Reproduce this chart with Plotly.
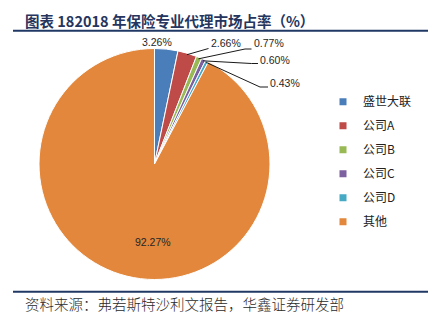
import math
import plotly.graph_objects as go

# ---------------- data ----------------
categories = ["盛世大联", "公司A", "公司B", "公司C", "公司D", "其他"]
shares = [3.26, 2.66, 0.77, 0.60, 0.43, 92.27]
share_labels = ["3.26%", "2.66%", "0.77%", "0.60%", "0.43%", "92.27%"]

title_text = "图表 182018 年保险专业代理市场占率（%）"
source_text = "资料来源：弗若斯特沙利文报告，华鑫证券研发部"

# ---------------- style / layout ----------------
colors = ["#4A7EBB", "#BE4B48", "#98B954", "#7D60A0", "#46AAC5", "#E2873B"]
W, H = 436, 329
CX, CY, R = 154.5, 164.0, 115.5          # pie centre / radius in pixels
NAVY = "#1F3864"
LABEL_FONT = dict(family="Liberation Sans, Arial", size=10.5, color="#262626")

# label placement (pixel positions of text) and leader elbow points
label_layout = [
    dict(x=156.7, y=42.3, anchor="center", leader=None),
    dict(x=209.3, y=43.3, anchor="left", leader=[(208.5, 48.5)]),
    dict(x=251.7, y=43.3, anchor="left", leader=[(245, 49), (251.5, 49)]),
    dict(x=258.3, y=60.0, anchor="left", leader=[(251.5, 63.5), (258, 63.5)]),
    dict(x=268.3, y=82.5, anchor="left", leader=[(260, 87), (268, 87)]),
    dict(x=153.0, y=241.7, anchor="center", leader=None),
]


def px(x):
    return x / W


def py(y):
    return 1 - y / H


fig = go.Figure()
fig.add_trace(go.Pie(
    labels=categories, values=shares, sort=False, direction="clockwise", rotation=0,
    marker=dict(colors=colors, line=dict(color="white", width=1)),
    textinfo="none", showlegend=False, hoverinfo="label+percent",
    domain=dict(x=[px(CX - R), px(CX + R)], y=[py(CY + R), py(CY - R)]),
))

# legend entries (no points; just legend symbols)
for name, col in zip(categories, colors):
    fig.add_trace(go.Scatter(
        x=[None], y=[None], mode="markers", name=name, legendgroup=name,
        marker=dict(symbol="square", size=7, color=col), hoverinfo="skip",
    ))

# percentage labels + leader lines derived from slice angles
total = sum(shares)
cum = 0.0
annotations = []
shapes = []
for val, txt, lay in zip(shares, share_labels, label_layout):
    mid = (cum + val / 2) / total * 2 * math.pi
    cum += val
    annotations.append(dict(
        x=px(lay["x"]), y=py(lay["y"]), xref="paper", yref="paper",
        text=txt, showarrow=False, xanchor=lay["anchor"], yanchor="middle",
        font=LABEL_FONT,
    ))
    if lay["leader"]:
        tx = CX + (R - 1.5) * math.sin(mid)
        ty = CY - (R - 1.5) * math.cos(mid)
        pts = [(tx, ty)] + lay["leader"]
        path = "M " + " L ".join(f"{px(a):.5f},{py(b):.5f}" for a, b in pts)
        shapes.append(dict(type="path", path=path, xref="paper", yref="paper",
                           line=dict(color="#1a1a1a", width=1)))

# title, rules and source
annotations.append(dict(
    x=px(23), y=py(20), xref="paper", yref="paper", xanchor="left", yanchor="middle",
    text=f"<b>{title_text}</b>", showarrow=False,
    font=dict(family="Noto Sans CJK SC", size=14.5, color="#25355E"),
))
annotations.append(dict(
    x=px(23), y=py(303), xref="paper", yref="paper", xanchor="left", yanchor="middle",
    text=source_text, showarrow=False,
    font=dict(family="Noto Sans CJK SC", size=14.5, color="#2a2a2a", weight=300),
))
for yy in (30.7, 291.7):
    shapes.append(dict(type="line", xref="paper", yref="paper",
                       x0=px(13), x1=px(428), y0=py(yy), y1=py(yy),
                       line=dict(color=NAVY, width=2)))

fig.update_layout(
    width=W, height=H, autosize=False,
    margin=dict(l=0, r=0, t=0, b=0),
    paper_bgcolor="white", plot_bgcolor="white",
    xaxis=dict(visible=False), yaxis=dict(visible=False),
    showlegend=True,
    legend=dict(
        x=px(323), y=py(87.2), xanchor="left", yanchor="top",
        traceorder="grouped", tracegroupgap=5, itemwidth=30,
        font=dict(family="Noto Sans CJK SC", size=12, color="#222222"),
        bgcolor="rgba(0,0,0,0)",
    ),
    annotations=annotations, shapes=shapes,
)

fig.write_html("out.html")
